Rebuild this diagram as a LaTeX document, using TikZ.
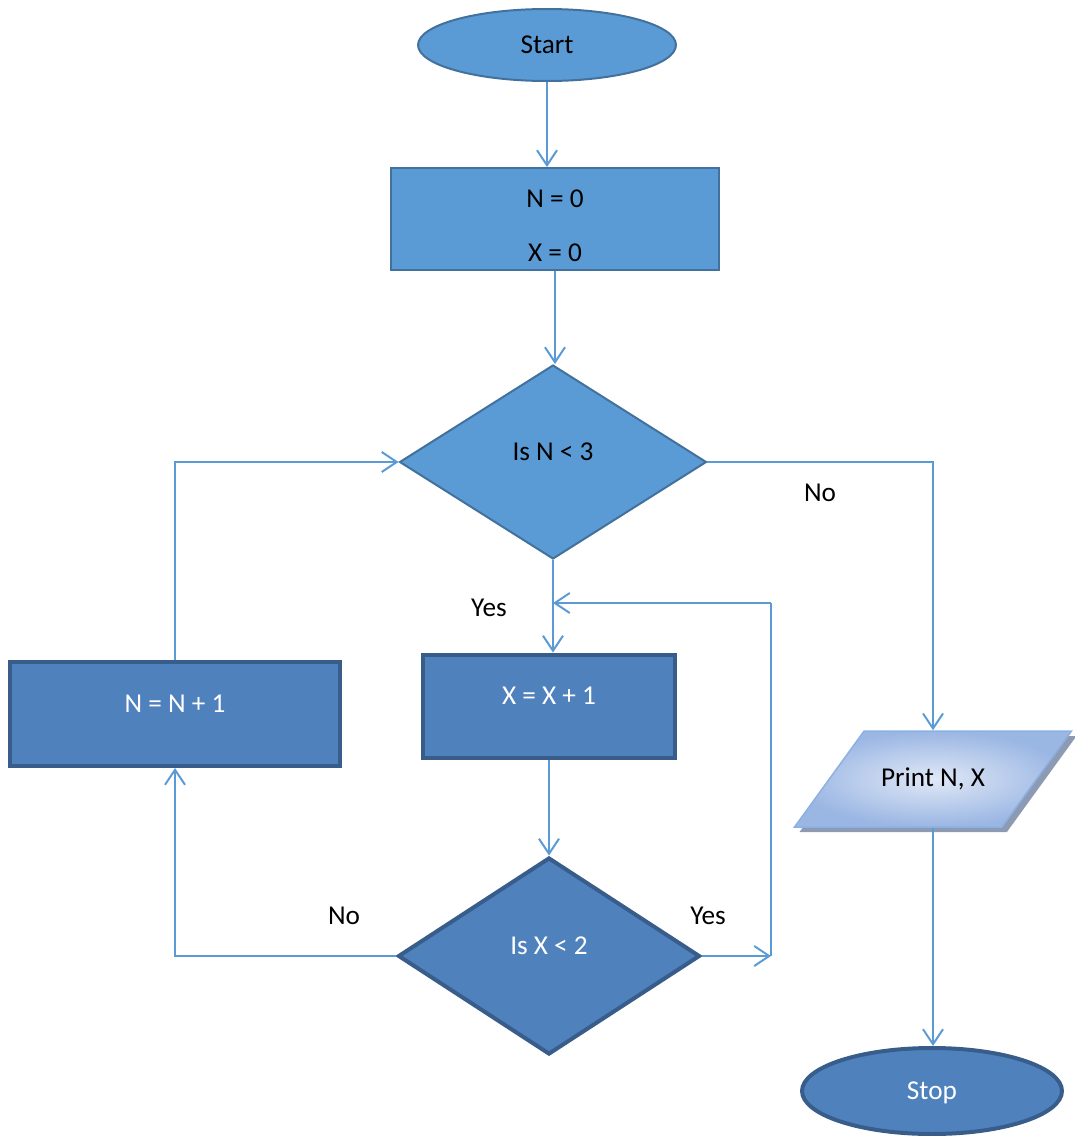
\documentclass[tikz,border=0pt]{standalone}
\usepackage{fontspec}
\setmainfont{Carlito}
\usepackage{tikz}
\usetikzlibrary{arrows.meta, shapes.geometric, shadows}
\usepackage{xcolor}
\definecolor{boxlight}{HTML}{5B9BD5}
\definecolor{edgelight}{HTML}{41719C}
\definecolor{boxdark}{HTML}{4F81BD}
\definecolor{edgedark}{HTML}{385D8A}
\definecolor{flowline}{HTML}{5B9BD5}
\definecolor{printin}{HTML}{E0E8F6}
\definecolor{printout}{HTML}{9AB6E3}
\definecolor{printedge}{HTML}{8DB0E2}
\definecolor{printshade}{HTML}{8C9BB3}

\begin{document}
\begin{tikzpicture}[x=0.02cm, y=-0.02cm, >={Straight Barb[length=0.3cm, width=0.4cm]}, font=\fontsize{15.5}{18}\selectfont]
				\tikzstyle{light} = [draw=edgelight, line width=0.04cm, fill=boxlight, inner sep=0pt]
				\tikzstyle{dark} = [draw=edgedark, line width=0.08cm, fill=boxdark, text=white, inner sep=0pt]
				\tikzstyle{lbl} = [draw=none, inner sep=0pt]
				\tikzstyle{flow} = [color=flowline, line width=0.04cm]
				
				\useasboundingbox (0,0) rectangle (1075,1136);
				
				\node[light, ellipse, minimum width=5.16cm, minimum height=1.44cm, text depth=0pt]	at (547, 45)	(start)	{Start};
				\node[light, minimum width=6.58cm, minimum height=2.04cm, align=center]	at (555, 219)	(init)	{\rule{0pt}{0.62cm}N = 0\\[0.45cm]X = 0};
				\node[light, diamond, aspect=1.58, minimum width=6.14cm, minimum height=3.88cm, text depth=0.4cm]	at (553, 462)	(dec1)	{Is N < 3};
				\node[dark, minimum width=5.06cm, minimum height=2.06cm, text depth=0.42cm]	at (549, 706)	(xbox)	{X = X + 1};
				\node[dark, minimum width=6.62cm, minimum height=2.08cm, text depth=0.4cm]	at (175, 714)	(nbox)	{N = N + 1};
				\node[dark, diamond, aspect=1.53, minimum width=6.04cm, minimum height=3.94cm, text depth=0.4cm]	at (549, 956)	(dec2)	{Is X < 2};
				\node[trapezium, trapezium left angle=26, trapezium right angle=154, trapezium stretches body=true,
					minimum width=5.54cm, minimum height=1.92cm, draw=printedge, line width=0.03cm,
					inner color=printin, outer color=printout,
					drop shadow={shadow xshift=0.1cm, shadow yshift=-0.1cm, fill=printshade, opacity=1}]
																	at (933, 779)	(print)	{Print N, X};
				\node[dark, ellipse, minimum width=5.2cm, minimum height=1.72cm, text depth=0pt]	at (932, 1091)	(stop)	{Stop};
				
				\node[lbl]	at (820, 493)	(noone)		{No};
				\node[lbl]	at (489, 608)	(yesone)	{Yes};
				\node[lbl]	at (344, 916)	(notwo)		{No};
				\node[lbl]	at (708, 916)	(yestwo)	{Yes};
				
				\coordinate (loopbot)	at (771, 956);
				\coordinate (looptop)	at (771, 603);
				\coordinate (loopin)	at (553, 603);
				
				\path[->, flow]
				(start.south)	edge	(start.south |- init.north)
				(init.south)	edge	(init.south |- dec1.north)
				(dec1.south)	edge	(dec1.south |- xbox.north)
				(xbox.south)	edge	(dec2.north)
				(print.south)	edge	(print.south |- stop.north)
				(dec2.east)		edge	(loopbot);
				
				\draw[flow] (loopbot) -- (looptop);
				\draw[flow, ->] (looptop) -- (loopin);
				\draw[flow, ->] (dec1.east) -| (print.north);
				\draw[flow, ->] (dec2.west) -| (nbox.south);
				\draw[flow, ->] (nbox.north) |- (dec1.west);
			\end{tikzpicture}
\end{document}
